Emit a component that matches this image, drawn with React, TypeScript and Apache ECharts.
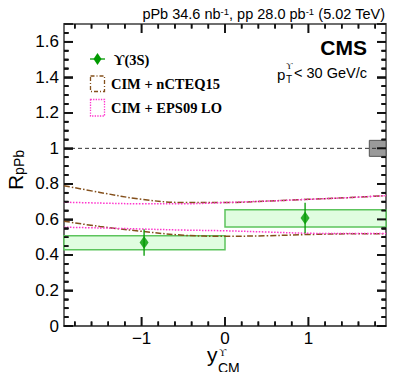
import React, { useEffect, useRef } from "react";
import * as echarts from "echarts";

const X_MIN = -1.93;
const X_MAX = 1.93;
const Y_MIN = 0;
const Y_MAX = 1.7;

// Data: Upsilon(3S) R_pPb in two rapidity bins
const binLow = [-1.93, 0];
const binHigh = [0, 1.93];
const pointX = [-0.97, 0.96];
const pointY = [0.47, 0.608];
const statErr = [0.075, 0.086];
const systLow = [0.429, 0.557];
const systHigh = [0.508, 0.655];

// Global uncertainty box around unity
const globalBoxX = [1.73, 1.93];
const globalBoxY = [0.955, 1.045];

// Model bands
const modelX = [-1.93, -1.5, -1.0, -0.5, 0, 0.5, 1.0, 1.5, 1.93];
const ncteqUpper = [0.79, 0.752, 0.713, 0.695, 0.695, 0.703, 0.713, 0.723, 0.734];
const ncteqLower = [0.59, 0.56, 0.533, 0.511, 0.505, 0.508, 0.515, 0.519, 0.52];
const eps09Upper = [0.697, 0.692, 0.688, 0.688, 0.695, 0.703, 0.713, 0.723, 0.734];
const eps09Lower = [0.556, 0.552, 0.546, 0.54, 0.536, 0.529, 0.522, 0.52, 0.52];

// Ticks
const xMajorTicks = [-1, 0, 1];
const xMinorTicks = [-1.8, -1.6, -1.4, -1.2, -0.8, -0.6, -0.4, -0.2, 0.2, 0.4, 0.6, 0.8, 1.2, 1.4, 1.6, 1.8];
const yMajorTicks = [0, 0.2, 0.4, 0.6, 0.8, 1, 1.2, 1.4, 1.6];
const yMajorLabels = ["0", "0.2", "0.4", "0.6", "0.8", "1", "1.2", "1.4", "1.6"];
const yMinorTicks = [0.05, 0.1, 0.15, 0.25, 0.3, 0.35, 0.45, 0.5, 0.55, 0.65, 0.7, 0.75, 0.85, 0.9, 0.95, 1.05, 1.1, 1.15, 1.25, 1.3, 1.35, 1.45, 1.5, 1.55, 1.65];

const SANS = "Liberation Sans, Arial, sans-serif";
const SERIF = "Liberation Serif, Times New Roman, serif";
const GREEN = "#009a00";
const BROWN = "#84501c";
const MAGENTA = "#ff33cc";
const FRAME = "#6e6e6e";
const TICK = "#111111";
const TICK_W = 1.6;

const MAJOR_LEN = 9;
const MINOR_LEN = 4.5;

// Plot area in pixels (used to express tick lengths in data units)
const PLOT_W = 322;
const PLOT_H = 302;
const dxPerPx = (X_MAX - X_MIN) / PLOT_W;
const dyPerPx = (Y_MAX - Y_MIN) / PLOT_H;

function xAxisDef(position: "top" | "bottom", labels: boolean) {
  return {
    type: "value",
    min: X_MIN,
    max: X_MAX,
    position,
    axisLine: { show: true, onZero: false, lineStyle: { color: position === "bottom" ? "#222" : FRAME, width: position === "bottom" ? 1.5 : 2 } },
    axisTick: { show: false },
    axisLabel: labels
      ? {
          show: true,
          customValues: xMajorTicks,
          formatter: (v: number) => (v < 0 ? "\u2212" + Math.abs(v) : String(v)),
          fontSize: 17,
          fontFamily: SANS,
          color: "#000",
          margin: 4,
        }
      : { show: false },
    splitLine: { show: false },
  };
}

function yAxisDef(position: "left" | "right", labels: boolean) {
  return {
    type: "value",
    min: Y_MIN,
    max: Y_MAX,
    interval: 0.2,
    position,
    axisLine: { show: true, onZero: false, lineStyle: { color: FRAME, width: 2 } },
    axisTick: { show: true, inside: true, length: MAJOR_LEN, lineStyle: { color: TICK, width: TICK_W } },
    minorTick: { show: true, splitNumber: 4, length: MINOR_LEN, lineStyle: { color: TICK, width: TICK_W } },
    axisLabel: labels
      ? {
          show: true,
          customValues: yMajorTicks,
          formatter: (v: number) => {
            const i = yMajorTicks.findIndex((t) => Math.abs(t - v) < 1e-6);
            return i >= 0 ? yMajorLabels[i] : "";
          },
          fontSize: 17,
          fontFamily: SANS,
          color: "#000",
          margin: 5,
        }
      : { show: false },
    splitLine: { show: false },
    minorSplitLine: { show: false },
  };
}

function boxRender(fill: string, stroke: string, lw: number) {
  return (params: any, api: any) => {
    const p0 = api.coord([api.value(0), api.value(3)]);
    const p1 = api.coord([api.value(1), api.value(2)]);
    return {
      type: "rect",
      shape: { x: p0[0], y: p0[1], width: p1[0] - p0[0], height: p1[1] - p0[1] },
      style: { fill, stroke, lineWidth: lw },
    };
  };
}

function segmentSeries(segments: number[][]) {
  return {
    type: "custom",
    data: segments,
    encode: { x: [0, 2], y: [1, 3] },
    renderItem: (params: any, api: any) => {
      const a = api.coord([api.value(0), api.value(1)]);
      const b = api.coord([api.value(2), api.value(3)]);
      return {
        type: "line",
        shape: { x1: a[0], y1: a[1], x2: b[0], y2: b[1] },
        style: { stroke: TICK, lineWidth: TICK_W },
      };
    },
    z: 8,
  };
}

const textGraphics: any[] = [
  {
    type: "text",
    x: 385,
    y: 14,
    style: {
      text: "pPb 34.6 nb{sup|-1}, pp 28.0 pb{sup|-1} (5.02 TeV)",
      font: `14.5px ${SANS}`,
      fill: "#000",
      align: "right",
      verticalAlign: "middle",
      rich: {
        sup: { fontSize: 9.5, fontFamily: SANS, verticalAlign: "top", padding: [0, 0, 6, 0] },
      },
    },
  },
  {
    type: "text",
    x: 367,
    y: 47.5,
    style: { text: "CMS", font: `bold 21px ${SANS}`, fill: "#000", align: "right", verticalAlign: "middle" },
  },
  {
    type: "text",
    x: 367,
    y: 73,
    style: { text: "< 30 GeV/c", font: `14.5px ${SANS}`, fill: "#000", align: "right", verticalAlign: "middle" },
  },
  {
    type: "text",
    x: 277,
    y: 74,
    style: { text: "p", font: `15px ${SANS}`, fill: "#000", align: "left", verticalAlign: "middle" },
  },
  {
    type: "text",
    x: 286,
    y: 79,
    style: { text: "T", font: `10px ${SANS}`, fill: "#000", align: "left", verticalAlign: "middle" },
  },
  {
    type: "text",
    x: 286,
    y: 66,
    style: { text: "\u03d2", font: `9px ${SERIF}`, fill: "#000", align: "left", verticalAlign: "middle" },
  },
  { type: "line", shape: { x1: 90, y1: 59, x2: 105, y2: 59 }, style: { stroke: GREEN, lineWidth: 1.3 } },
  { type: "polygon", shape: { points: [[97.5, 53], [101.5, 59], [97.5, 65], [93.5, 59]] }, style: { fill: GREEN } },
  {
    type: "text",
    x: 114,
    y: 60,
    style: { text: "\u03d2(3S)", font: `bold 14.5px ${SERIF}`, fill: "#000", align: "left", verticalAlign: "middle" },
  },
  {
    type: "rect",
    shape: { x: 90.5, y: 76, width: 14, height: 15.5 },
    style: { fill: "none", stroke: BROWN, lineWidth: 1.3, lineDash: [4, 2, 1, 2] },
  },
  {
    type: "text",
    x: 111,
    y: 84,
    style: { text: "CIM + nCTEQ15", font: `bold 14.5px ${SERIF}`, fill: "#000", align: "left", verticalAlign: "middle" },
  },
  {
    type: "rect",
    shape: { x: 90.5, y: 99.5, width: 14, height: 16.5 },
    style: { fill: "none", stroke: MAGENTA, lineWidth: 1.3, lineDash: [1.3, 1.3] },
  },
  {
    type: "text",
    x: 111,
    y: 108,
    style: { text: "CIM + EPS09 LO", font: `bold 14.5px ${SERIF}`, fill: "#000", align: "left", verticalAlign: "middle" },
  },
  {
    type: "text",
    x: 15,
    y: 170,
    rotation: Math.PI / 2,
    style: {
      text: "R{sub|pPb}",
      font: `21px ${SANS}`,
      fill: "#000",
      align: "center",
      verticalAlign: "middle",
      rich: {
        sub: { fontSize: 14, fontFamily: SANS, verticalAlign: "bottom", padding: [8, 0, 0, 0] },
      },
    },
  },
  {
    type: "text",
    x: 207,
    y: 354,
    style: { text: "y", font: `21px ${SANS}`, fill: "#000", align: "left", verticalAlign: "middle" },
  },
  {
    type: "text",
    x: 219,
    y: 352,
    style: { text: "\u03d2", font: `10px ${SERIF}`, fill: "#000", align: "left", verticalAlign: "middle" },
  },
  {
    type: "text",
    x: 218,
    y: 368,
    style: { text: "CM", font: `14px ${SANS}`, fill: "#000", align: "left", verticalAlign: "middle" },
  },
];

export default function App() {
  const ref = useRef<HTMLDivElement>(null);

  useEffect(() => {
    if (!ref.current) return;
    const chart = echarts.init(ref.current, undefined, { renderer: "svg" });

    const systData = binLow.map((b, i) => [b, binHigh[i], systLow[i], systHigh[i]]);
    const errData = pointX.map((x, i) => [x, pointY[i] - statErr[i], pointY[i] + statErr[i]]);
    const pts = pointX.map((x, i) => [x, pointY[i]]);
    const mk = (ys: number[]) => modelX.map((x, i) => [x, ys[i]]);

    const xTicks = (vals: number[], len: number) => {
      const h = len * dyPerPx;
      return [
        ...vals.map((v) => [v, Y_MIN, v, Y_MIN + h]),
        ...vals.map((v) => [v, Y_MAX, v, Y_MAX - h]),
      ];
    };
    const yTicks = (vals: number[], len: number) => {
      const w = len * dxPerPx;
      return [
        ...vals.map((v) => [X_MIN, v, X_MIN + w, v]),
        ...vals.map((v) => [X_MAX, v, X_MAX - w, v]),
      ];
    };
    const allTicks = [
      ...xTicks(xMajorTicks, MAJOR_LEN),
      ...xTicks(xMinorTicks, MINOR_LEN),
      ...yTicks(yMajorTicks, MAJOR_LEN),
      ...yTicks(yMinorTicks, MINOR_LEN),
    ];

    const lineSeries = (name: string, ys: number[], color: string, type: any) => ({
      name,
      type: "line",
      data: mk(ys),
      smooth: 0.35,
      showSymbol: false,
      symbol: "none",
      lineStyle: { color, width: 1.5, type },
      z: 3,
    });

    const option: any = {
      animation: false,
      grid: { left: 64, right: 13, top: 24, bottom: 54 },
      xAxis: [xAxisDef("bottom", true), xAxisDef("top", false)],
      yAxis: [yAxisDef("left", true), yAxisDef("right", false)],
      series: [
        {
          type: "custom",
          renderItem: boxRender("#e0fde0", "#5cc45c", 1.5),
          data: systData,
          encode: { x: [0, 1], y: [2, 3] },
          z: 2,
        },
        {
          type: "custom",
          renderItem: boxRender("#9a9a9a", "#555", 1),
          data: [[globalBoxX[0], globalBoxX[1], globalBoxY[0], globalBoxY[1]]],
          encode: { x: [0, 1], y: [2, 3] },
          z: 2,
        },
        {
          type: "line",
          data: [[X_MIN, 1], [X_MAX, 1]],
          showSymbol: false,
          symbol: "none",
          lineStyle: { color: "#333", width: 1, type: [4, 3] },
          z: 2,
        },
        lineSeries("nCTEQ15 up", ncteqUpper, BROWN, [6, 2, 1.5, 2]),
        lineSeries("nCTEQ15 low", ncteqLower, BROWN, [6, 2, 1.5, 2]),
        lineSeries("EPS09 up", eps09Upper, MAGENTA, [1.5, 1.5]),
        lineSeries("EPS09 low", eps09Lower, MAGENTA, [1.5, 1.5]),
        {
          type: "custom",
          renderItem: (params: any, api: any) => {
            const a = api.coord([api.value(0), api.value(1)]);
            const b = api.coord([api.value(0), api.value(2)]);
            return {
              type: "line",
              shape: { x1: a[0], y1: a[1], x2: b[0], y2: b[1] },
              style: { stroke: GREEN, lineWidth: 1.3 },
            };
          },
          data: errData,
          encode: { x: 0, y: [1, 2] },
          z: 4,
        },
        {
          type: "scatter",
          data: pts,
          symbol: "diamond",
          symbolSize: [9, 13],
          itemStyle: { color: GREEN },
          z: 5,
        },
        segmentSeries(allTicks),
      ],
      graphic: textGraphics,
    };

    chart.setOption(option);

    // Second path for the tick marks, positioned through the chart's own scales
    try {
      const toPx = (x: number, y: number) => chart.convertToPixel({ xAxisIndex: 0, yAxisIndex: 0 } as any, [x, y]) as number[];
      const tickLine = (x1: number, y1: number, x2: number, y2: number) => ({
        type: "line",
        silent: true,
        z: 50,
        shape: { x1, y1, x2, y2 },
        style: { stroke: TICK, lineWidth: TICK_W },
      });
      const ticks: any[] = [];
      const addX = (vals: number[], len: number) => {
        vals.forEach((v) => {
          const b = toPx(v, Y_MIN);
          const t = toPx(v, Y_MAX);
          if (!b || !t) return;
          ticks.push(tickLine(b[0], b[1], b[0], b[1] - len));
          ticks.push(tickLine(t[0], t[1], t[0], t[1] + len));
        });
      };
      const addY = (vals: number[], len: number) => {
        vals.forEach((v) => {
          const l = toPx(X_MIN, v);
          const r = toPx(X_MAX, v);
          if (!l || !r) return;
          ticks.push(tickLine(l[0], l[1], l[0] + len, l[1]));
          ticks.push(tickLine(r[0], r[1], r[0] - len, r[1]));
        });
      };
      addX(xMajorTicks, MAJOR_LEN);
      addX(xMinorTicks, MINOR_LEN);
      addY(yMajorTicks, MAJOR_LEN);
      addY(yMinorTicks, MINOR_LEN);
      if (ticks.length) chart.setOption({ graphic: [...textGraphics, ...ticks] });
    } catch (e) {
      // keep the chart as drawn
    }

    return () => chart.dispose();
  }, []);

  return <div ref={ref} style={{ width: 399, height: 380, margin: -8 }} />;
}
